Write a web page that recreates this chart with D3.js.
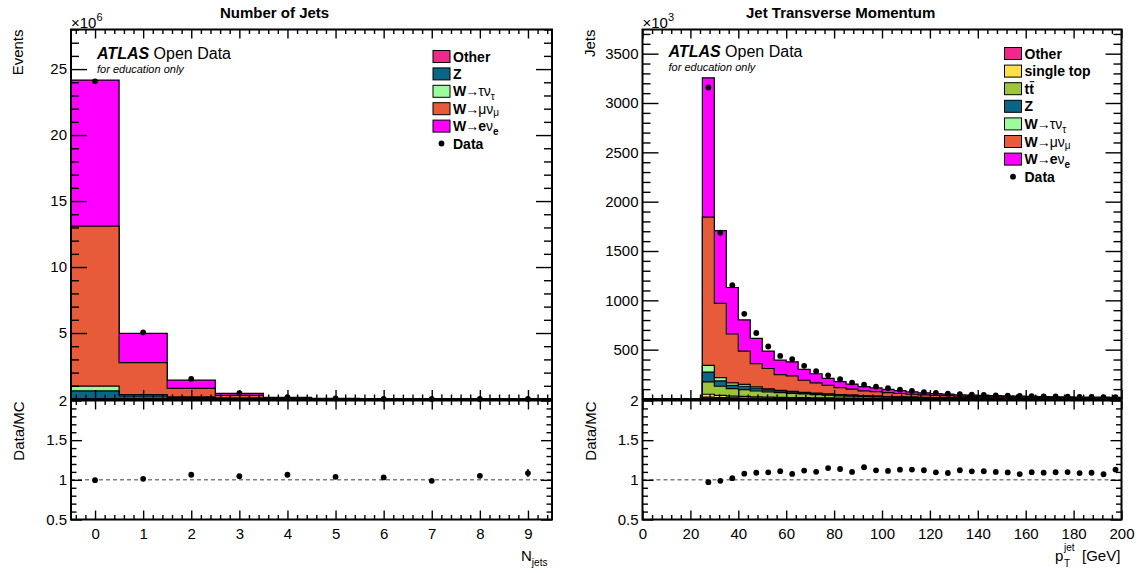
<!DOCTYPE html>
<html>
<head>
<meta charset="utf-8">
<script src="https://cdn.jsdelivr.net/npm/d3@7"></script>
<style>
body { margin: 0; background: #fff; }
svg { display: block; }
</style>
</head>
<body>
<script>
const width = 1142;
const height = 573;
const font = "'Liberation Sans', Arial, Helvetica, sans-serif";

// ---- Number of jets (units of 1e6 events) ----
let njetCenters = [0, 1, 2, 3, 4, 5, 6, 7, 8, 9];
let njetEdges = [-0.5, 0.5, 1.5, 2.5, 3.5, 4.5, 5.5, 6.5, 7.5, 8.5, 9.5];
let njetOther = [0.01, 0.03, 0.03, 0.02, 0.01, 0.003, 0.001, 0.0004, 0.0001, 0.00004];
let njetZ     = [0.6, 0.2, 0.08, 0.03, 0.01, 0.003, 0.001, 0.0003, 0.0001, 0.00003];
let njetWtau  = [0.36, 0.1, 0.05, 0.02, 0.01, 0.002, 0.001, 0.0002, 0.0001, 0.00002];
let njetWmu   = [12.13, 2.42, 0.65, 0.2, 0.06, 0.018, 0.005, 0.0017, 0.0005, 0.00017];
let njetWe    = [11.07, 2.23, 0.62, 0.16, 0.04, 0.014, 0.004, 0.0014, 0.0004, 0.00014];
let njetData  = [24.07, 5.045, 1.522, 0.450, 0.1383, 0.04152, 0.01236, 0.003948, 0.001261, 0.000434];
let njetRatioErr = [0, 0, 0, 0, 0.003, 0.005, 0.009, 0.016, 0.03, 0.05];

// ---- Jet pT (units of 1e3 jets), 5 GeV bins ----
let ptEdges = [25, 30, 35, 40, 45, 50, 55, 60, 65, 70, 75, 80, 85, 90, 95, 100, 105, 110, 115, 120,
  125, 130, 135, 140, 145, 150, 155, 160, 165, 170, 175, 180, 185, 190, 195, 200];
let ptOther = [20, 15, 12, 10, 8, 7, 6, 5, 5, 4, 4, 3, 3, 3, 2, 2, 2, 2, 1, 1,
  1, 1, 1, 1, 1, 1, 1, 0.8, 0.8, 0.7, 0.7, 0.6, 0.6, 0.6, 0.5];
let ptSingleTop = [28, 22, 18, 16, 14, 12, 11, 10, 9, 8, 7, 6, 5, 4, 4, 3, 3, 2, 2, 2,
  2, 1, 1, 1, 1, 1, 1, 0.8, 0.7, 0.7, 0.6, 0.6, 0.5, 0.5, 0.5];
let ptTtbar = [125, 92, 75, 69, 59, 52, 47, 43, 37, 32, 27, 23, 20, 17, 15, 13, 11, 10, 9, 8,
  7, 6, 6, 5, 5, 4, 4, 3.5, 3.3, 3.1, 2.9, 2.7, 2.6, 2.5, 2.3];
let ptZ = [100, 54, 34, 34, 28, 22, 17, 14, 12, 12, 10, 9, 8, 6, 6, 5, 4, 4, 3, 3,
  3, 2, 2, 2, 2, 2, 1.5, 1.5, 1.4, 1.3, 1.2, 1.1, 1, 1, 0.9];
let ptWtau = [68, 34, 24, 20, 13, 9, 7, 6, 5, 5, 4, 4, 3, 3, 2, 2, 2, 1, 1, 1,
  1, 1, 1, 1, 0.5, 0.5, 0.5, 0.4, 0.4, 0.4, 0.3, 0.3, 0.3, 0.3, 0.3];
let ptWmu = [1502, 753, 496, 337, 237, 207, 160, 156, 122, 102, 86, 71, 61, 50, 45, 40, 34, 29, 26, 22,
  20, 18, 16, 15, 13.5, 12.5, 11.5, 10.5, 10, 9.3, 8.8, 8.2, 7.8, 7.6, 7];
let ptWe = [1412, 737, 471, 315, 255, 177, 146, 143, 111, 93, 71, 60, 51, 43, 38, 33, 28, 24, 21, 19,
  16, 14, 13, 12, 11, 10, 9.5, 8.5, 7.9, 7.5, 7, 6.5, 6.2, 6, 5.5];
let ptData = [3157, 1685, 1153, 863, 669, 532, 437, 405, 336, 282, 240, 200, 166, 146, 125.4, 109, 94.8, 81.3, 70.6, 61.3,
  54.3, 48.2, 44.3, 41, 37.4, 33.9, 31.1, 28.5, 26.7, 25.2, 23.6, 21.7, 20.7, 19.8, 19.2];

let colors = {
  other: "#f0288c",
  singleTop: "#ffe047",
  ttbar: "#9dc43b",
  Z: "#0b6587",
  Wtau: "#9cfc9c",
  Wmu: "#e85b3a",
  We: "#ff00ff"
};

let svg = d3.select("body").append("svg")
  .attr("width", width)
  .attr("height", height);

function styleAxis(g, size) {
  g.select(".domain").remove();
  g.attr("font-family", null).attr("font-size", null);
  g.selectAll("line").attr("stroke", "#000").attr("stroke-width", 1.4);
  g.selectAll("text").attr("font-family", font).attr("font-size", size || 15).attr("fill", "#000");
}

function stepRange(a, b, s, skip) {
  let out = [];
  for (let v = a; v <= b + 1e-9; v += s) {
    let r = Math.round(v * 1000) / 1000;
    if (skip && Math.abs(r / skip - Math.round(r / skip)) < 1e-6) continue;
    out.push(r);
  }
  return out;
}

function drawPanel(p) {
  let g = svg.append("g");
  let x = p.x, yTop = p.yTop, yRat = p.yRat;
  let [x0, x1] = x.range();
  let [tb, tt] = yTop.range();
  let [rb, rt] = yRat.range();

  let n = p.data.length;
  let centers = d3.range(n).map(i => (p.edges[i] + p.edges[i + 1]) / 2);

  // cumulative stack, bottom layer first
  let cum = [];
  p.layers.forEach((l, k) => {
    cum.push(l.values.map((v, i) => v + (k > 0 ? cum[k - 1][i] : 0)));
  });
  let total = cum[cum.length - 1];

  let area = d3.area()
    .curve(d3.curveStepAfter)
    .x(d => x(d.x))
    .y0(yTop(0))
    .y1(d => yTop(d.v));

  for (let k = cum.length - 1; k >= 0; k--) {
    let pts = p.edges.map((e, i) => ({ x: e, v: cum[k][Math.min(i, n - 1)] }));
    g.append("path")
      .attr("d", area(pts))
      .attr("fill", p.layers[k].color)
      .attr("stroke", "#000")
      .attr("stroke-width", 1.2);
  }

  // data points
  g.selectAll(".dot")
    .data(p.data)
    .enter()
    .append("circle")
    .attr("cx", (d, i) => x(centers[i]))
    .attr("cy", d => yTop(d))
    .attr("r", 2.9)
    .attr("fill", "#000");

  // ratio
  let ratio = p.data.map((d, i) => d / total[i]);
  g.append("line")
    .attr("x1", x0).attr("x2", x1)
    .attr("y1", yRat(1)).attr("y2", yRat(1))
    .attr("stroke", "#808080")
    .attr("stroke-width", 1.5)
    .attr("stroke-dasharray", "4,3");

  if (p.ratioErr) {
    g.selectAll(".rerr")
      .data(ratio)
      .enter()
      .append("line")
      .attr("x1", (d, i) => x(centers[i]))
      .attr("x2", (d, i) => x(centers[i]))
      .attr("y1", (d, i) => yRat(d - p.ratioErr[i]))
      .attr("y2", (d, i) => yRat(d + p.ratioErr[i]))
      .attr("stroke", "#000")
      .attr("stroke-width", 1.4);
  }
  g.selectAll(".rdot")
    .data(ratio)
    .enter()
    .append("circle")
    .attr("cx", (d, i) => x(centers[i]))
    .attr("cy", d => yRat(d))
    .attr("r", 2.9)
    .attr("fill", "#000");

  // ---- axes, top panel ----
  g.append("g").attr("transform", `translate(${x0},0)`)
    .call(d3.axisLeft(yTop).tickValues(p.yMajor).tickSize(-16).tickPadding(4)
      .tickFormat(d => d === 0 ? "" : d))
    .call(a => styleAxis(a));
  g.append("g").attr("transform", `translate(${x0},0)`)
    .call(d3.axisLeft(yTop).tickValues(p.yMinor).tickSize(-8).tickFormat(""))
    .call(a => styleAxis(a));
  g.append("g").attr("transform", `translate(${x1},0)`)
    .call(d3.axisRight(yTop).tickValues(p.yMajor).tickSize(-16).tickFormat(""))
    .call(a => styleAxis(a));
  g.append("g").attr("transform", `translate(${x1},0)`)
    .call(d3.axisRight(yTop).tickValues(p.yMinor).tickSize(-8).tickFormat(""))
    .call(a => styleAxis(a));
  [[tt, d3.axisTop], [tb, d3.axisBottom]].forEach(([yy, ax]) => {
    g.append("g").attr("transform", `translate(0,${yy})`)
      .call(ax(x).tickValues(p.xMajor).tickSize(-9).tickFormat(""))
      .call(a => styleAxis(a));
    g.append("g").attr("transform", `translate(0,${yy})`)
      .call(ax(x).tickValues(p.xMinor).tickSize(-4.5).tickFormat(""))
      .call(a => styleAxis(a));
  });

  // ---- axes, ratio panel ----
  g.append("g").attr("transform", `translate(${x0},0)`)
    .call(d3.axisLeft(yRat).tickValues([0.5, 1, 1.5, 2]).tickSize(-11).tickPadding(4)
      .tickFormat(d => String(d)))
    .call(a => styleAxis(a));
  g.append("g").attr("transform", `translate(${x0},0)`)
    .call(d3.axisLeft(yRat).tickValues(stepRange(0.5, 2, 0.1, 0.5)).tickSize(-5.5).tickFormat(""))
    .call(a => styleAxis(a));
  g.append("g").attr("transform", `translate(${x1},0)`)
    .call(d3.axisRight(yRat).tickValues([0.5, 1, 1.5, 2]).tickSize(-11).tickFormat(""))
    .call(a => styleAxis(a));
  g.append("g").attr("transform", `translate(${x1},0)`)
    .call(d3.axisRight(yRat).tickValues(stepRange(0.5, 2, 0.1, 0.5)).tickSize(-5.5).tickFormat(""))
    .call(a => styleAxis(a));
  g.append("g").attr("transform", `translate(0,${rb})`)
    .call(d3.axisBottom(x).tickValues(p.xMajor).tickSize(-9).tickPadding(9))
    .call(a => styleAxis(a));
  g.append("g").attr("transform", `translate(0,${rb})`)
    .call(d3.axisBottom(x).tickValues(p.xMinor).tickSize(-4.5).tickFormat(""))
    .call(a => styleAxis(a));
  g.append("g").attr("transform", `translate(0,${rt})`)
    .call(d3.axisTop(x).tickValues(p.xMajor).tickSize(-9).tickFormat(""))
    .call(a => styleAxis(a));
  g.append("g").attr("transform", `translate(0,${rt})`)
    .call(d3.axisTop(x).tickValues(p.xMinor).tickSize(-4.5).tickFormat(""))
    .call(a => styleAxis(a));

  // frames
  g.append("rect").attr("x", x0).attr("y", tt).attr("width", x1 - x0).attr("height", tb - tt)
    .attr("fill", "none").attr("stroke", "#000").attr("stroke-width", 2);
  g.append("rect").attr("x", x0).attr("y", rt).attr("width", x1 - x0).attr("height", rb - rt)
    .attr("fill", "none").attr("stroke", "#000").attr("stroke-width", 2);

  // title
  g.append("text").attr("x", p.titleX).attr("y", 17.5)
    .attr("font-family", font).attr("font-size", 15).attr("font-weight", "bold")
    .text(p.title);

  // exponent
  let ex = g.append("text").attr("x", x0).attr("y", 28)
    .attr("font-family", font).attr("font-size", 15);
  ex.append("tspan").text("\u00d710");
  ex.append("tspan").attr("font-size", 11).attr("dy", -7).text(p.exponent);

  // y titles
  g.append("text")
    .attr("transform", `translate(${x0 - 48},${tt}) rotate(-90)`)
    .attr("text-anchor", "end")
    .attr("font-family", font).attr("font-size", 15)
    .text(p.yTitle);
  g.append("text")
    .attr("transform", `translate(${x0 - 47},${rt + 1}) rotate(-90)`)
    .attr("text-anchor", "end")
    .attr("font-family", font).attr("font-size", 15)
    .text("Data/MC");

  // ATLAS label
  let at = g.append("text").attr("x", x0 + 26).attr("y", p.atlasY)
    .attr("font-family", font).attr("font-size", 16);
  at.append("tspan").attr("font-weight", "bold").attr("font-style", "italic").text("ATLAS");
  at.append("tspan").text(" Open Data");
  g.append("text").attr("x", x0 + 26).attr("y", p.atlasY + 14)
    .attr("font-family", font).attr("font-size", 11).attr("font-style", "italic")
    .text("for education only");

  // legend, same order as the stack from bottom (Other) to top
  let lx = x0 + 362;
  p.layers.forEach((l, i) => {
    let cy = p.legendY + i * p.legendStep;
    g.append("rect").attr("x", lx).attr("y", cy - 6).attr("width", 17).attr("height", 12)
      .attr("fill", l.color).attr("stroke", "#000").attr("stroke-width", 1);
    let t = g.append("text").attr("x", lx + 20).attr("y", cy + 5)
      .attr("font-family", font).attr("font-size", 14).attr("font-weight", "bold");
    l.label(t, g);
  });
  let dy = p.legendY + p.layers.length * p.legendStep;
  g.append("circle").attr("cx", lx + 8.5).attr("cy", dy).attr("r", 2.9).attr("fill", "#000");
  g.append("text").attr("x", lx + 20).attr("y", dy + 5)
    .attr("font-family", font).attr("font-size", 14).attr("font-weight", "bold")
    .text("Data");

  return g;
}

function plainLabel(s) { return t => t.text(s); }
function wLabel(lep, sub, boldSub, subDy) {
  return t => {
    t.append("tspan").text("W");
    t.append("tspan").attr("font-weight", "normal").attr("dx", -1).text("\u2192");
    t.append("tspan").attr("font-weight", lep === "e" ? "bold" : "normal").attr("dx", -1).text(lep);
    t.append("tspan").attr("font-weight", "normal").text("\u03bd");
    t.append("tspan").attr("font-weight", boldSub ? "bold" : "normal")
      .attr("font-size", 10).attr("dy", subDy).text(sub);
  };
}
function ttLabel() {
  return (t, g) => {
    t.text("tt");
    let node = t.node();
    let sx = node.getStartPositionOfChar(1).x;
    let w = node.getSubStringLength(1, 1);
    let y0 = +t.attr("y");
    g.append("line")
      .attr("x1", sx + 0.5).attr("x2", sx + w + 0.5)
      .attr("y1", y0 - 12).attr("y2", y0 - 12)
      .attr("stroke", "#000").attr("stroke-width", 1);
  };
}

// left panel
let xL = d3.scaleLinear().domain([-0.5, 9.5]).range([71, 552]);
drawPanel({
  x: xL,
  yTop: d3.scaleLinear().domain([0, 28]).range([399, 29.5]),
  yRat: d3.scaleLinear().domain([0.5, 2]).range([519.5, 400.5]),
  edges: njetEdges,
  data: njetData,
  ratioErr: njetRatioErr,
  layers: [
    { values: njetOther, color: colors.other, label: plainLabel("Other") },
    { values: njetZ, color: colors.Z, label: plainLabel("Z") },
    { values: njetWtau, color: colors.Wtau, label: wLabel("\u03c4", "\u03c4", false, 4) },
    { values: njetWmu, color: colors.Wmu, label: wLabel("\u03bc", "\u03bc", false, 2) },
    { values: njetWe, color: colors.We, label: wLabel("e", "e", true, 4) }
  ],
  yMajor: [0, 5, 10, 15, 20, 25],
  yMinor: stepRange(0, 28, 1, 5),
  xMajor: njetCenters,
  xMinor: stepRange(-0.4, 9.4, 0.2, 1),
  title: "Number of Jets",
  titleX: 220,
  exponent: "6",
  yTitle: "Events",
  atlasY: 59,
  legendY: 56.5,
  legendStep: 17.4
});

// axis title N_jets
let nj = svg.append("text").attr("x", 521).attr("y", 561)
  .attr("font-family", font).attr("font-size", 15);
nj.append("tspan").text("N");
nj.append("tspan").attr("font-size", 10).attr("dy", 5).text("jets");

// right panel
let xR = d3.scaleLinear().domain([0, 200]).range([642.5, 1121.5]);
drawPanel({
  x: xR,
  yTop: d3.scaleLinear().domain([0, 3745]).range([399, 29.5]),
  yRat: d3.scaleLinear().domain([0.5, 2]).range([519.5, 400.5]),
  edges: ptEdges,
  data: ptData,
  layers: [
    { values: ptOther, color: colors.other, label: plainLabel("Other") },
    { values: ptSingleTop, color: colors.singleTop, label: plainLabel("single top") },
    { values: ptTtbar, color: colors.ttbar, label: ttLabel() },
    { values: ptZ, color: colors.Z, label: plainLabel("Z") },
    { values: ptWtau, color: colors.Wtau, label: wLabel("\u03c4", "\u03c4", false, 4) },
    { values: ptWmu, color: colors.Wmu, label: wLabel("\u03bc", "\u03bc", false, 2) },
    { values: ptWe, color: colors.We, label: wLabel("e", "e", true, 4) }
  ],
  yMajor: [0, 500, 1000, 1500, 2000, 2500, 3000, 3500],
  yMinor: stepRange(0, 3700, 100, 500),
  xMajor: stepRange(0, 200, 20),
  xMinor: stepRange(0, 200, 4, 20),
  title: "Jet Transverse Momentum",
  titleX: 746,
  exponent: "3",
  yTitle: "Jets",
  atlasY: 57,
  legendY: 53.5,
  legendStep: 17.6
});

// axis title p_T^jet [GeV]
svg.append("text").attr("x", 1055).attr("y", 561)
  .attr("font-family", font).attr("font-size", 15).text("p");
svg.append("text").attr("x", 1064).attr("y", 551)
  .attr("font-family", font).attr("font-size", 10).text("jet");
svg.append("text").attr("x", 1064).attr("y", 567)
  .attr("font-family", font).attr("font-size", 10).text("T");
svg.append("text").attr("x", 1082).attr("y", 561)
  .attr("font-family", font).attr("font-size", 15).text("[GeV]");
</script>
</body>
</html>
